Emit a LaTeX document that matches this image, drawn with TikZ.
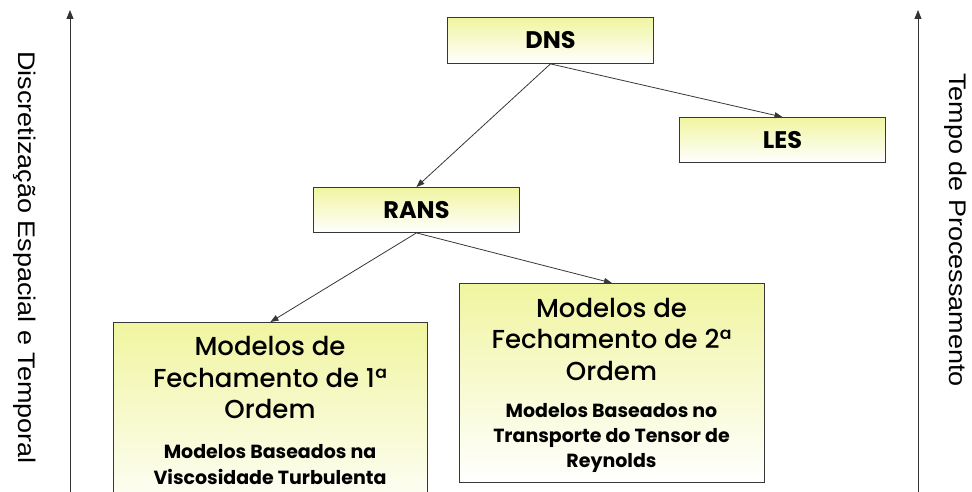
\documentclass[tikz,border=0pt]{standalone}
\usepackage{fontspec}
\setmainfont{Poppins}
\newfontfamily\ttlf{Poppins}[UprightFont={* Medium}]
\newfontfamily\arialf{Liberation Sans}
\usetikzlibrary{arrows.meta}
\definecolor{boxtop}{RGB}{240,245,160}
\definecolor{edgec}{RGB}{55,55,55}
\begin{document}
\begin{tikzpicture}[x=1pt,y=-1pt,
  box/.style={draw=edgec, line width=0.9pt, top color=boxtop, bottom color=white,
    inner sep=0pt, anchor=north west, font=\fontsize{24}{28}\selectfont\bfseries},
  conn/.style={draw=edgec, line width=0.8pt, -{Triangle[length=8pt,width=6pt]}},
  axis/.style={draw=black!80, line width=0.9pt, -{Triangle[length=9pt,width=7pt]}},
  ttl/.style={anchor=base, inner sep=0pt, font=\ttlf\fontsize{26}{30}\selectfont},
  sub/.style={anchor=base, inner sep=0pt, font=\fontsize{19}{22}\selectfont\bfseries},
  vlab/.style={inner sep=0pt, font=\arialf\fontsize{24}{28}\selectfont}
]
\useasboundingbox (0,0) rectangle (972,492);
\clip (0,0) rectangle (972,492);

% axes
\coordinate (la0) at (70,492);
\coordinate (la1) at (70,10);
\coordinate (ra0) at (918,492);
\coordinate (ra1) at (918,10);
\draw[axis] (la0) -- (la1);
\draw[axis] (ra0) -- (ra1);
\node[vlab, rotate=-90, xscale=1.125] (lt) at (25,257.5) {Discretização Espacial e Temporal};
\node[vlab, rotate=-90, xscale=1.125] (rt) at (956,230) {Tempo de Processamento};

% boxes
\node[box, minimum width=206pt, minimum height=46pt] (dns) at (447,17) {DNS};
\node[box, minimum width=206pt, minimum height=45pt] (les) at (679,117) {LES};
\node[box, minimum width=206pt, minimum height=45pt] (rans) at (313,187) {RANS};
\node[box, minimum width=314pt, minimum height=200pt] (m1) at (113,322) {};
\node[box, minimum width=305pt, minimum height=199pt] (m2) at (459,283) {};

% box 1 text
\node[ttl] (m1a) at (270,355) {Modelos de};
\node[ttl] (m1b) at (270,387) {Fechamento de 1ª};
\node[ttl] (m1c) at (270,418) {Ordem};
\node[sub] (m1d) at (270,458) {Modelos Baseados na};
\node[sub] (m1e) at (270,484) {Viscosidade Turbulenta};

% box 2 text
\node[ttl] (m2a) at (611.5,317) {Modelos de};
\node[ttl] (m2b) at (611.5,348) {Fechamento de 2ª};
\node[ttl] (m2c) at (611.5,380) {Ordem};
\node[sub] (m2d) at (611.5,417) {Modelos Baseados no};
\node[sub] (m2e) at (611.5,442) {Transporte do Tensor de};
\node[sub] (m2f) at (611.5,467) {Reynolds};

% connectors
\draw[conn] (dns.south) -- (rans.north);
\draw[conn] (dns.south) -- (les.north);
\draw[conn] (rans.south) -- (m1.north);
\draw[conn] (rans.south) -- (m2.north);
\end{tikzpicture}
\end{document}
